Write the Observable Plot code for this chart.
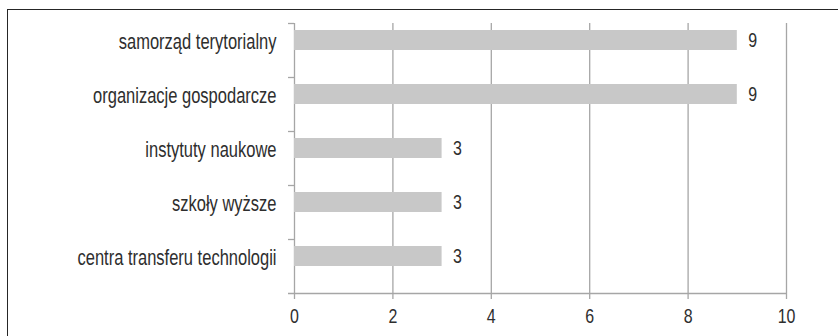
<!DOCTYPE html>
<html>
<head>
<meta charset="utf-8">
<script src="https://cdn.jsdelivr.net/npm/d3@7"></script>
<script src="https://cdn.jsdelivr.net/npm/@observablehq/plot@0.6"></script>
<style>
  html, body { margin: 0; padding: 0; background: #fff; }
  #wrap { position: relative; width: 838px; height: 336px; overflow: hidden; }
  #box { position: absolute; left: 7px; top: 9px; width: 840px; height: 340px; border: 1px solid #262626; box-sizing: border-box; }
  #chart { position: absolute; left: 0; top: 0; }
  #chart svg { font-family: "Liberation Sans", Arial, sans-serif; }
</style>
</head>
<body>
<div id="wrap"><div id="box"></div><div id="chart"></div></div>
<script>
// Institutions and their counts
const categories = [
  "samorząd terytorialny",
  "organizacje gospodarcze",
  "instytuty naukowe",
  "szkoły wyższe",
  "centra transferu technologii"
];
const values = [9, 9, 3, 3, 3];
const xTicks = [0, 2, 4, 6, 8, 10];

const data = categories.map((c, i) => ({category: c, value: values[i]}));

const grid = "#a6a6a6";
const ink = "#2e2e2e";
const half = 27; // half a band, in px
const labelSize = 22;
const numberSize = 21;

const plot = Plot.plot({
  width: 838,
  height: 336,
  marginLeft: 294,
  marginRight: 52,
  marginTop: 23,
  marginBottom: 43,
  style: {fontSize: numberSize + "px", color: ink, background: "transparent"},
  x: {domain: [0, 10], ticks: xTicks, label: null},
  y: {domain: categories, padding: 0, axis: null},
  marks: [
    // vertical gridlines
    Plot.ruleX(xTicks.slice(1), {stroke: grid, strokeWidth: 1.3}),
    // left axis line
    Plot.ruleX([0], {stroke: grid, strokeWidth: 1.3}),
    // bars
    Plot.barX(data, {x: "value", y: "category", fill: "#c8c8c8", insetTop: 7, insetBottom: 27}),
    // category boundary ticks on the left axis
    Plot.ruleY(categories, {y: d => d, x1: 0, x2: 0, insetRight: 6, dy: -half, stroke: grid, strokeWidth: 1.3}),
    // bottom axis line, with its own left tick
    Plot.ruleY(categories.slice(-1), {y: d => d, x1: 0, x2: 10, insetLeft: -6, dy: half, stroke: grid, strokeWidth: 1.3}),
    Plot.axisX({ticks: xTicks, tickSize: 6, stroke: grid, strokeWidth: 1.3, tickPadding: 9, fill: ink, fontSize: numberSize, label: null}),
    // category labels
    Plot.text(categories, {x: 0, y: d => d, dx: -18, dy: -9, textAnchor: "end", fill: ink, fontSize: labelSize}),
    // value labels
    Plot.text(data, {x: "value", y: "category", text: d => String(d.value), dx: 11, dy: -10, textAnchor: "start", fill: ink, fontSize: numberSize})
  ]
});

document.getElementById("chart").appendChild(plot);

// condensed lettering: squeeze each label horizontally
plot.querySelectorAll("text").forEach(t => {
  const len = t.getComputedTextLength();
  if (!len) return;
  const k = /^\d+$/.test(t.textContent.trim()) ? 0.76 : 0.75;
  t.setAttribute("textLength", (len * k).toFixed(2));
  t.setAttribute("lengthAdjust", "spacingAndGlyphs");
});
</script>
</body>
</html>
